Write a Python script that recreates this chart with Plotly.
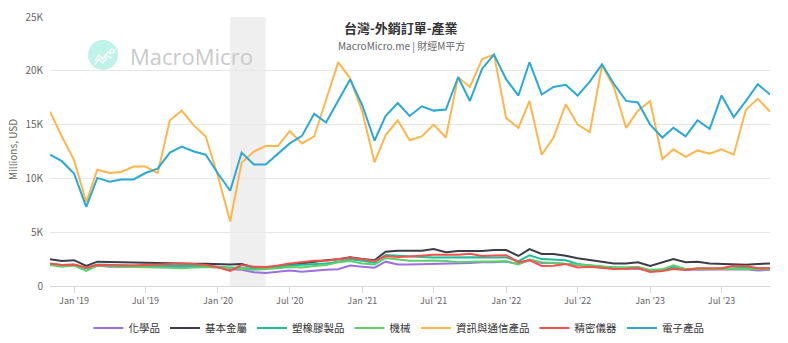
import pandas as pd
import plotly.graph_objects as go

dates = pd.date_range("2018-11-01", periods=61, freq="MS")

chem = [2.04,1.9,1.95,1.64,1.9,1.8,1.8,1.8,1.83,1.86,1.8,1.8,1.8,1.8,1.73,1.55,1.5,1.27,1.21,1.33,1.45,1.33,1.45,1.5,1.55,1.9,1.8,1.7,2.26,2.0,2.0,2.02,2.02,2.07,2.07,2.14,2.2,2.2,2.27,2.05,2.4,2.14,2.14,2.05,1.9,1.83,1.73,1.64,1.6,1.6,1.43,1.5,1.64,1.5,1.5,1.5,1.5,1.5,1.55,1.43,1.5]
metal = [2.48,2.32,2.4,1.86,2.26,2.23,2.23,2.2,2.14,2.14,2.1,2.07,2.07,2.07,2.0,2.0,2.04,1.73,1.67,1.73,1.95,2.1,2.26,2.4,2.48,2.66,2.5,2.4,3.19,3.28,3.28,3.28,3.43,3.13,3.25,3.25,3.25,3.34,3.34,2.79,3.43,2.97,2.97,2.82,2.57,2.41,2.26,2.1,2.1,2.2,1.86,2.2,2.5,2.2,2.26,2.1,2.07,2.04,1.98,2.04,2.1]
plastic = [2.04,1.95,1.97,1.7,2.0,1.95,1.95,1.9,1.9,1.9,1.9,1.95,1.9,1.88,1.8,1.7,1.64,1.64,1.7,1.77,1.9,1.95,2.04,2.1,2.26,2.48,2.35,2.17,2.88,2.8,2.72,2.7,2.66,2.68,2.68,2.7,2.68,2.66,2.66,2.3,2.85,2.5,2.45,2.4,2.05,1.9,1.8,1.75,1.7,1.75,1.4,1.5,1.8,1.55,1.55,1.57,1.57,1.64,1.7,1.64,1.64]
machine = [1.95,1.8,1.9,1.4,1.9,1.83,1.8,1.77,1.77,1.73,1.7,1.64,1.73,1.77,1.77,1.64,1.58,1.5,1.58,1.64,1.77,1.73,1.86,1.95,2.2,2.32,2.1,2.0,2.6,2.45,2.35,2.35,2.38,2.33,2.2,2.25,2.25,2.28,2.3,2.0,2.45,2.2,2.14,2.07,1.95,1.89,1.83,1.7,1.73,1.76,1.5,1.55,1.92,1.58,1.6,1.6,1.64,1.58,1.58,1.55,1.55]
ict = [16.2,13.9,11.7,7.8,10.8,10.5,10.6,11.1,11.1,10.5,15.4,16.3,14.9,13.9,10.2,6.0,11.45,12.5,13.0,13.0,14.4,13.25,13.9,17.3,20.8,19.3,16.2,11.5,14.0,15.4,13.55,13.9,15.0,13.8,19.4,18.5,21.1,21.5,15.6,14.7,17.2,12.2,13.8,16.9,15.0,14.3,20.5,18.5,14.7,16.3,17.2,11.8,12.7,12.0,12.6,12.3,12.7,12.2,16.4,17.4,16.2]
precision = [2.1,1.95,2.0,1.73,1.95,1.9,1.9,1.9,1.95,2.0,2.1,2.1,2.04,1.95,1.75,1.4,1.95,1.8,1.77,1.9,2.1,2.26,2.35,2.35,2.5,2.63,2.48,2.32,2.79,2.7,2.75,2.83,2.9,2.9,2.9,3.0,2.79,2.83,2.86,2.2,2.41,1.86,1.89,2.04,1.73,1.8,1.7,1.58,1.6,1.67,1.3,1.39,1.58,1.49,1.64,1.64,1.64,1.89,1.86,1.64,1.64]
electronic = [12.2,11.6,10.45,7.35,10.05,9.7,9.9,9.9,10.5,10.9,12.4,12.95,12.5,12.2,10.45,8.85,12.4,11.3,11.3,12.3,13.25,13.95,16.0,15.2,17.2,19.2,16.8,13.5,15.8,17.0,15.8,16.7,16.3,16.4,19.4,17.2,20.2,21.5,19.2,17.7,20.8,17.8,18.5,18.7,17.7,19.0,20.6,18.8,17.2,17.05,15.0,13.8,14.7,13.9,15.4,14.6,17.7,15.7,17.2,18.75,17.8]

series_names = ["化學品", "基本金屬", "塑橡膠製品", "機械", "資訊與通信產品", "精密儀器", "電子產品"]
series_values = [chem, metal, plastic, machine, ict, precision, electronic]
series_colors = ["#9d6fe0", "#3b3c48", "#1fbd9c", "#5ecf6a", "#fdb64c", "#f2524a", "#2aa8d6"]

y_tickvals = [0, 5000, 10000, 15000, 20000, 25000]
y_ticktext = ["0", "5K", "10K", "15K", "20K", "25K"]
x_tickvals = pd.date_range("2019-01-01", "2023-07-01", freq="6MS")
x_ticktext = ["Jan '19", "Jul '19", "Jan '20", "Jul '20", "Jan '21", "Jul '21", "Jan '22", "Jul '22", "Jan '23", "Jul '23"]

recession = ("2020-02-01", "2020-05-01")

FONT = "Noto Sans CJK TC, Noto Sans, sans-serif"

# pixel -> paper helpers (plot area: x 50..770, y 17..286)
def px(x):
    return (x - 50) / 720

def py(y):
    return (286 - y) / 269

fig = go.Figure()
for name, vals, col in zip(series_names, series_values, series_colors):
    fig.add_trace(go.Scatter(
        x=dates, y=[v * 1000 for v in vals], name=name, mode="lines",
        line=dict(color=col, width=2), hoverinfo="x+y+name"))

fig.add_shape(type="rect", xref="x", yref="paper", x0=recession[0], x1=recession[1],
              y0=0, y1=1, fillcolor="#efefef", line=dict(width=0), layer="below")

# watermark logo
fig.add_shape(type="circle", xref="paper", yref="paper",
              x0=px(88), x1=px(118), y0=py(70), y1=py(40),
              fillcolor="#bff2e8", line=dict(width=0), layer="below")
zig = [(95, 61), (99, 55), (103, 59), (108, 52), (111, 54)]
path = "M " + " L ".join(f"{px(a)},{py(b)}" for a, b in zig)
fig.add_shape(type="path", xref="paper", yref="paper", path=path,
              line=dict(color="white", width=1.5), layer="below")
zig2 = [(95, 65), (99, 59), (103, 63), (108, 56), (112, 58)]
path2 = "M " + " L ".join(f"{px(a)},{py(b)}" for a, b in zig2)
fig.add_shape(type="path", xref="paper", yref="paper", path=path2,
              line=dict(color="white", width=1.2), layer="below")
fig.add_shape(type="circle", xref="paper", yref="paper",
              x0=px(110), x1=px(114), y0=py(53), y1=py(49),
              line=dict(color="white", width=1.2), fillcolor="#bff2e8", layer="below")
fig.add_annotation(text="MacroMicro", xref="paper", yref="paper",
                   x=px(128), y=py(56), xanchor="left", yanchor="middle",
                   showarrow=False, font=dict(family="Open Sans, sans-serif", size=22, color="#cacaca"))

fig.add_annotation(text="<b>台灣-外銷訂單-產業</b>", xref="paper", yref="paper",
                   x=px(401), y=py(27.5), xanchor="center", yanchor="middle",
                   showarrow=False, font=dict(family=FONT, size=13, color="#333333"))
fig.add_annotation(text="MacroMicro.me | 財經M平方", xref="paper", yref="paper",
                   x=px(401), y=py(45), xanchor="center", yanchor="middle",
                   showarrow=False, font=dict(family=FONT, size=10, color="#666666"))
fig.add_annotation(text="Millions, USD", xref="paper", yref="paper",
                   x=px(12), y=py(150), xanchor="center", yanchor="middle",
                   textangle=-90, showarrow=False, font=dict(family=FONT, size=10, color="#666666"))

fig.update_layout(
    width=788, height=343,
    margin=dict(l=50, r=18, t=17, b=57, autoexpand=False),
    paper_bgcolor="white", plot_bgcolor="white",
    font=dict(family=FONT, size=10, color="#666666"),
    showlegend=True,
    legend=dict(orientation="h", xref="container", x=399 / 788, xanchor="center",
                yref="container", y=(343 - 328) / 343, yanchor="middle",
                font=dict(family=FONT, size=10.5, color="#333333"),
                itemwidth=30, tracegroupgap=0, bgcolor="rgba(0,0,0,0)"),
    xaxis=dict(range=[dates[0], dates[-1]], tickvals=x_tickvals, ticktext=x_ticktext,
               showgrid=False, showline=True, linecolor="#d8d8d8", linewidth=1,
               ticks="outside", ticklen=6, tickcolor="#d8d8d8",
               tickfont=dict(size=9, color="#666666"), zeroline=False),
    yaxis=dict(range=[0, 25000], tickvals=y_tickvals, ticktext=y_ticktext,
               showgrid=True, gridcolor="#e6e6e6", gridwidth=1, zeroline=False,
               tickfont=dict(size=10, color="#666666"), ticks="", ticklabelstandoff=6),
)

fig.write_html("out.html")
